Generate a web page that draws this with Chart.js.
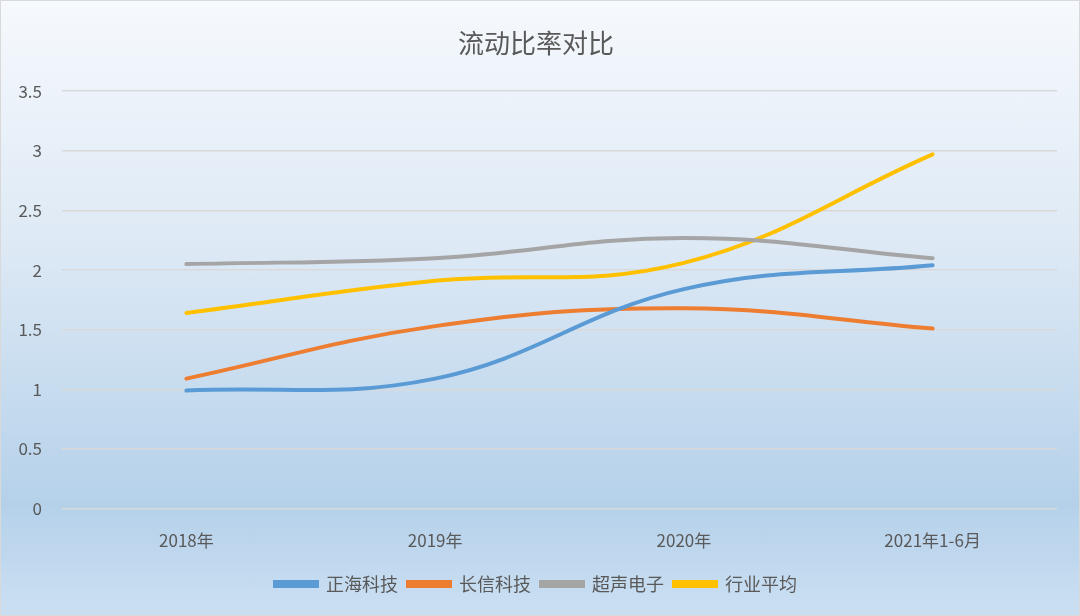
<!DOCTYPE html>
<html>
<head>
<meta charset="utf-8">
<script src="https://cdn.jsdelivr.net/npm/chart.js@4"></script>
<style>
  html, body { margin: 0; padding: 0; }
  #box {
    width: 1078px; height: 614px;
    border: 1px solid #d9d9d9;
    background: linear-gradient(to bottom, #f6f9fd 0%, #dde9f5 40%, #b5d1ea 82%, #cbdff2 100%);
  }
</style>
</head>
<body>
<div id="box"><canvas id="grafico" width="1078" height="614"></canvas></div>
<script>
// dados do gráfico
const anos = ['2018年', '2019年', '2020年', '2021年1-6月'];
const zhenghai = [0.99, 1.09, 1.84, 2.04];
const changxin = [1.09, 1.53, 1.68, 1.51];
const chaosheng = [2.05, 2.10, 2.27, 2.10];
const mediaSetor = [1.64, 1.91, 2.06, 2.97];

const fonte = '"Noto Sans CJK SC", "Noto Sans", sans-serif';

const ctx = document.getElementById('grafico').getContext('2d');
new Chart(ctx, {
    type: 'line',
    data: {
        labels: anos,
        datasets: [
            { label: '正海科技', data: zhenghai, borderColor: '#5b9bd5', backgroundColor: '#5b9bd5' },
            { label: '长信科技', data: changxin, borderColor: '#ed7d31', backgroundColor: '#ed7d31' },
            { label: '超声电子', data: chaosheng, borderColor: '#a5a5a5', backgroundColor: '#a5a5a5' },
            { label: '行业平均', data: mediaSetor, borderColor: '#ffc000', backgroundColor: '#ffc000' }
        ]
    },
    options: {
        responsive: false,
        animation: false,
        layout: { padding: { left: 14, right: 22, top: 0, bottom: 12 } },
        elements: {
            line: { borderWidth: 4, tension: 0.4, borderCapStyle: 'round', fill: false },
            point: { radius: 0 }
        },
        plugins: {
            title: {
                display: true,
                text: '流动比率对比',
                color: '#595959',
                font: { family: fonte, size: 26, weight: 'normal' },
                padding: { top: 27, bottom: 32 }
            },
            legend: {
                position: 'bottom',
                labels: {
                    color: '#595959',
                    font: { family: fonte, size: 18 },
                    boxWidth: 42,
                    boxHeight: 4,
                    padding: 10
                }
            },
            tooltip: { enabled: false }
        },
        scales: {
            x: {
                offset: true,
                grid: { display: false },
                border: { display: false },
                ticks: { color: '#595959', font: { family: fonte, size: 17 }, padding: 14 }
            },
            y: {
                min: 0,
                max: 3.5,
                afterFit: scale => { scale.width = 47; },
                ticks: {
                    stepSize: 0.5, color: '#595959', font: { family: fonte, size: 17 }, padding: 20,
                    callback: v => String(v)
                },
                grid: { color: '#d9d9d9', lineWidth: 1.5, drawTicks: false },
                border: { display: false }
            }
        }
    }
});
</script>
</body>
</html>
